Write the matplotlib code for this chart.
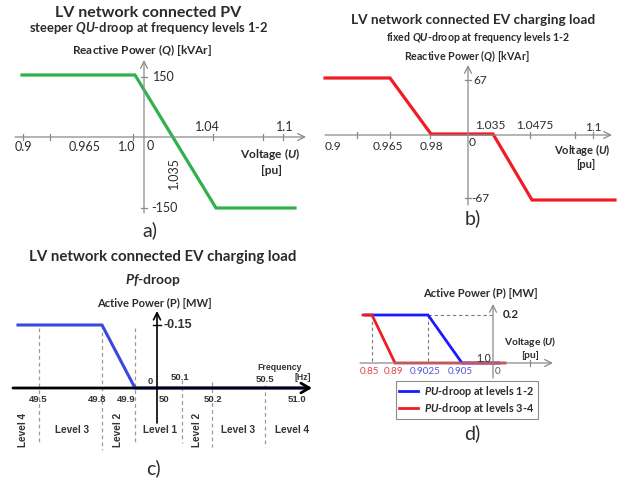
import matplotlib.pyplot as plt
import matplotlib
import numpy as np

matplotlib.use('Agg')

plt.rcParams['font.family'] = ['Lato', 'DejaVu Sans']
plt.rcParams['mathtext.fontset'] = 'custom'
plt.rcParams['mathtext.it'] = 'Lato:italic:bold'
plt.rcParams['mathtext.rm'] = 'Lato:bold'

# a) PV, QU-droop (voltage pu -> reactive power kVAr)
pv_u = [0.9, 1.0, 1.04, 1.11]
pv_q = [150, 150, -150, -150]
pv_xticks = ['0.9', '0.965', '1.0', '1.04', '1.1']

# b) EV charging load, fixed QU-droop
ev_u = [0.9, 0.965, 0.98, 1.035, 1.0475, 1.11]
ev_q = [67, 67, 0, 0, -67, -67]
ev_xticks = ['0.9', '0.965', '0.98', '1.035', '1.0475', '1.1']

# c) EV charging load, Pf-droop (frequency Hz -> active power MW)
pf_f = [49.4, 49.8, 49.9, 51.05]
pf_p = [-0.15, -0.15, 0, 0]
pf_xticks = ['49.5', '49.8', '49.9', '50', '50.1', '50.2', '50.5', '51.0']
pf_levels = ['Level 4', 'Level 3', 'Level 2', 'Level 1', 'Level 2', 'Level 3', 'Level 4']

# d) PU-droop (voltage pu -> active power MW)
pu12_u = [0.835, 0.9025, 0.905, 1.01]
pu12_p = [0.2, 0.2, 0, 0]
pu34_u = [0.83, 0.85, 0.89, 1.02]
pu34_p = [0.2, 0.2, 0, 0]
pu_xticks = ['0.85', '0.89', '0.9025', '0.905', '0']

GRAY = '#8a8a8a'
TXT = '#2b2b2b'
GREEN = '#2fb24c'
RED = '#ee1c25'
BLUE = '#3b48e0'


def scale(vals, knots, pix):
    # schematic (non-linear) axis: values -> picture position
    return np.interp(vals, knots, pix)


def arrow(ax, x0, y0, x1, y1, color=GRAY, lw=0.9, head='->,head_length=0.5,head_width=0.25'):
    ax.annotate('', xy=(x1, y1), xytext=(x0, y0),
                arrowprops=dict(arrowstyle=head, color=color, lw=lw, shrinkA=0, shrinkB=0))


fig = plt.figure(figsize=(6.21, 4.79), dpi=100)
ax = fig.add_axes([0, 0, 1, 1])
ax.set_xlim(0, 621)
ax.set_ylim(479, 0)
ax.axis('off')

# ---------------- a) ----------------
ax_u = [0.9, 1.0, 1.04, 1.11]
ax_px = [22, 135, 216, 295]
ay_q = [-150, 0, 150]
ay_px = [208, 137, 75]

arrow(ax, 15, 137, 306, 137)
arrow(ax, 144, 213, 144, 60)
for t in [23, 50, 133, 213, 263, 283]:
    ax.plot([t, t], [134, 140], color=GRAY, lw=0.9)
for t in [77, 208]:
    ax.plot([141, 147], [t, t], color=GRAY, lw=0.9)
ax.plot(scale(pv_u, ax_u, ax_px), scale(pv_q, ay_q, ay_px), color=GREEN, lw=2.3,
        solid_joinstyle='miter')
x0 = np.interp(0, pv_q[2:0:-1], scale(pv_u[1:3], ax_u, ax_px)[::-1])

ax.text(148, 13, 'LV network connected PV', fontsize=11.5, fontweight='bold', ha='center', va='center', color=TXT)
ax.text(149, 28, r'steeper $\mathit{QU}$-droop at frequency levels 1-2', fontsize=9.3, fontweight='bold',
        ha='center', va='center', color=TXT)
ax.text(142, 50, r'Reactive Power ($\mathit{Q}$) [kVAr]', fontsize=8.6, fontweight='bold', ha='center',
        va='center', color=TXT)
for lab, x, y in zip(pv_xticks, [23, 85, 127, 207, 285], [147, 147, 147, 127, 127]):
    ax.text(x, y, lab, fontsize=9, ha='center', va='center', color=TXT)
ax.text(150, 146, '0', fontsize=9, ha='center', va='center', color=TXT)
ax.text(x0 - 2, 173, '1.035', fontsize=9, ha='center', va='center', rotation=90, color=TXT)
ax.text(153, 77, '150', fontsize=9, ha='left', va='center', color=TXT)
ax.text(151, 208, '-150', fontsize=9, ha='left', va='center', color=TXT)
ax.text(270, 154, r'Voltage ($\mathit{U}$)', fontsize=8.6, fontweight='bold', ha='center', va='center', color=TXT)
ax.text(272, 171, '[pu]', fontsize=8.6, fontweight='bold', ha='center', va='center', color=TXT)
ax.text(150, 230, 'a)', fontsize=14, ha='center', va='center', color=TXT)

# ---------------- b) ----------------
bx_u = [0.9, 0.965, 0.98, 1.035, 1.0475, 1.11]
bx_px = [325, 390, 431, 493, 532, 615]
by_q = [-67, 0, 67]
by_px = [200, 134, 78]

arrow(ax, 325, 135, 612, 135)
arrow(ax, 468, 205, 468, 65)
for t in [357, 390, 430, 530, 575, 593]:
    ax.plot([t, t], [132, 138], color=GRAY, lw=0.9)
for t in [80, 198]:
    ax.plot([465, 471], [t, t], color=GRAY, lw=0.9)
ax.plot(scale(ev_u, bx_u, bx_px), scale(ev_q, by_q, by_px), color=RED, lw=2.3, solid_joinstyle='miter')

ax.text(473, 20, 'LV network connected EV charging load', fontsize=9.8, fontweight='bold', ha='center',
        va='center', color=TXT)
ax.text(478, 37, r'fixed $\mathit{QU}$-droop at frequency levels 1-2', fontsize=7.6, fontweight='bold',
        ha='center', va='center', color=TXT)
ax.text(467, 56, r'Reactive Power ($\mathit{Q}$) [kVAr]', fontsize=7.7, fontweight='bold', ha='center',
        va='center', color=TXT)
for lab, x, y in zip(ev_xticks, [333, 388, 432, 490, 535, 593], [146, 146, 146, 125, 125, 127]):
    ax.text(x, y, lab, fontsize=8.6, ha='center', va='center', color=TXT)
ax.text(472, 143, '0', fontsize=8.6, ha='center', va='center', color=TXT)
ax.text(473, 80, '67', fontsize=8.6, ha='left', va='center', color=TXT)
ax.text(471, 198, '-67', fontsize=8.6, ha='left', va='center', color=TXT)
ax.text(582, 150, r'Voltage ($\mathit{U}$)', fontsize=8, fontweight='bold', ha='center', va='center', color=TXT)
ax.text(586, 164, '[pu]', fontsize=8, fontweight='bold', ha='center', va='center', color=TXT)
ax.text(473, 218, 'b)', fontsize=14, ha='center', va='center', color=TXT)

# ---------------- c) ----------------
cx_f = [49.4, 49.5, 49.8, 49.9, 50.0, 50.1, 50.2, 50.5, 51.0, 51.05]
cx_px = [18, 39, 102, 135, 157, 182, 212, 265, 297, 308]
cy_p = [-0.15, 0]
cy_px = [325, 388]

dash_f = [49.5, 49.8, 49.9, 50.1, 50.2, 50.5]
dash_top = [328, 325, 328, 380, 382, 385]
dash_bot = [443, 450, 443, 443, 447, 447]
for f, top, bot in zip(dash_f, dash_top, dash_bot):
    x = scale(f, cx_f, cx_px)
    ax.plot([x, x], [top, bot], color='#9a9a9a', lw=0.9, ls=(0, (3, 2.5)))
arrow(ax, 13, 388, 312, 388, color='black', lw=2.0, head='->,head_length=0.6,head_width=0.35')
arrow(ax, 157, 423, 157, 311, color='black', lw=1.2, head='->,head_length=0.5,head_width=0.25')
ax.plot([153, 161], [325, 325], color='black', lw=1.0)
ax.plot(scale(pf_f, cx_f, cx_px), scale(pf_p, cy_p, cy_px), color=BLUE, lw=2.2, solid_joinstyle='miter')

ax.text(163, 257, 'LV network connected EV charging load', fontsize=10.8, fontweight='bold', ha='center',
        va='center', color=TXT)
ax.text(153, 280, r'$\mathit{Pf}$-droop', fontsize=10, fontweight='bold', ha='center', va='center', color=TXT)
ax.text(154, 303, 'Active Power (P) [MW]', fontsize=8, fontweight='bold', ha='center', va='center', color=TXT)
AR = ['Liberation Sans', 'DejaVu Sans']
for lab, x, y in zip(pf_xticks, [38, 97, 126, 164, 180, 213, 265, 297],
                     [399, 399, 399, 399, 377, 399, 380, 399]):
    ax.text(x, y, lab, fontsize=6.8, fontweight='bold', family=AR, ha='center', va='center', color='#333333')
ax.text(150, 382, '0', fontsize=6.8, fontweight='bold', family=AR, ha='center', va='center', color='#333333')
ax.text(163, 325, '-0.15', fontsize=9, fontweight='bold', family=AR, ha='left', va='center', color='#333333')
ax.text(280, 367, 'Frequency', fontsize=6.3, fontweight='bold', family=AR, ha='center', va='center', color='#333333')
ax.text(303, 377, '[Hz]', fontsize=6.3, fontweight='bold', family=AR, ha='center', va='center', color='#333333')
for lab, x, rot in zip(pf_levels, [23, 72, 118, 160, 197, 238, 292], [90, 0, 90, 0, 90, 0, 0]):
    ax.text(x, 430, lab, fontsize=7.2, fontweight='bold', family=AR, ha='center', va='center', rotation=rot,
            color='#333333')
ax.text(153, 468, 'c)', fontsize=14, ha='center', va='center', color=TXT)

# ---------------- d) ----------------
dx_u = [0.83, 0.85, 0.89, 0.9025, 0.905, 1.0, 1.02]
dx_px = [363, 372, 395, 428, 462, 493, 505]
dy_p = [0, 0.2]
dy_px = [363, 315]

xp = scale([0.85, 0.9025], dx_u, dx_px)
for x in xp:
    ax.plot([x, x], [315, 363], color='#7a7a7a', lw=0.8, ls=(0, (3, 2.5)))
ax.plot([xp[1], 493], [315, 315], color='#7a7a7a', lw=0.8, ls=(0, (3, 2.5)))
arrow(ax, 360, 363, 553, 363)
arrow(ax, 493, 378, 493, 304)
ax.plot([530, 530], [360, 366], color=GRAY, lw=0.9)
l12, = ax.plot(scale(pu12_u, dx_u, dx_px), scale(pu12_p, dy_p, dy_px), color='#1a1aff', lw=2.0,
               solid_joinstyle='miter')
l34, = ax.plot(scale(pu34_u, dx_u, dx_px), scale(pu34_p, dy_p, dy_px), color=RED, lw=2.0,
               solid_joinstyle='miter')

ax.text(480, 293, 'Active Power (P) [MW]', fontsize=8, fontweight='bold', ha='center', va='center', color=TXT)
ax.text(503, 315, '0.2', fontsize=8.4, fontweight='bold', ha='left', va='center', color=TXT)
ax.text(530, 342, r'Voltage ($\mathit{U}$)', fontsize=7.4, fontweight='bold', ha='center', va='center', color=TXT)
ax.text(530, 355, '[pu]', fontsize=7.4, fontweight='bold', ha='center', va='center', color=TXT)
ax.text(484, 358, '1.0', fontsize=7.6, ha='center', va='center', color=TXT)
for lab, x, c in zip(pu_xticks, [370, 394, 425, 460, 498],
                     ['#e8404a', '#e8404a', '#5555dd', '#5555dd', '#555555']):
    ax.text(x, 371, lab, fontsize=7.1, ha='center', va='center', color=c)
leg = ax.legend([l12, l34], [r'$\mathit{PU}$-droop at levels 1-2', r'$\mathit{PU}$-droop at levels 3-4'],
                loc='center', bbox_to_anchor=(467, 400), bbox_transform=ax.transData,
                fancybox=False, edgecolor='#8a8a8a', framealpha=1, fontsize=7.8, handlelength=1.7,
                borderpad=0.3, labelspacing=0.2, handletextpad=0.6)
for t in leg.get_texts():
    t.set_fontweight('bold')
    t.set_color(TXT)
leg.get_frame().set_linewidth(0.8)
ax.text(472, 433, 'd)', fontsize=14, ha='center', va='center', color=TXT)

plt.savefig('out.png', dpi=100)
plt.close()
